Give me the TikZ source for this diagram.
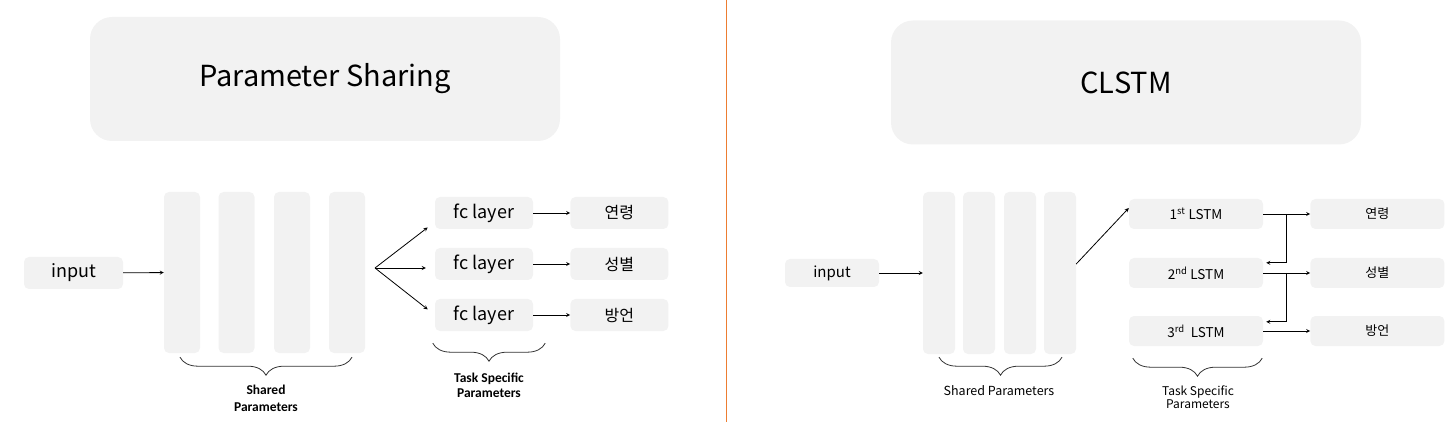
\documentclass[tikz,border=0pt]{standalone}
\usepackage{fontspec}
\setmainfont{Noto Sans CJK KR}
\newfontfamily\capfont{Carlito}
\usetikzlibrary{positioning,calc,decorations.pathreplacing}
\definecolor{boxgray}{HTML}{F2F2F2}
\definecolor{divider}{HTML}{ED7D31}

\begin{document}
\begin{tikzpicture}[x=1pt,y=-1pt,
  tile/.style={fill=boxgray, rounded corners=5pt, inner sep=0pt, align=center},
  head/.style={tile, rounded corners=22pt, minimum width=470pt, minimum height=124pt, font=\fontsize{29}{35}\selectfont},
  bar/.style={tile, minimum height=161pt},
  fcbox/.style={tile, minimum width=98pt, minimum height=32pt, font=\fontsize{18}{22}\selectfont},
  outL/.style={fcbox, font=\fontsize{16}{20}\selectfont},
  lstmbox/.style={tile, minimum width=134pt, minimum height=30pt, font=\fontsize{13.5}{16}\selectfont},
  outR/.style={lstmbox, font=\fontsize{13}{16}\selectfont},
  brc/.style={decorate, decoration={brace, mirror, amplitude=18pt}, line width=0.8pt, draw=black!80},
  arr/.style={->, >=stealth, line width=0.8pt},
  node distance=37pt]
  \useasboundingbox (0,0) rectangle (1452,422);

  % Parameter Sharing
  \node[head] (titleL) at (325,79) {Parameter Sharing};
  \node[fcbox, minimum width=99pt] (inL) at (73.5,273) {input};
  \foreach \i/\x in {1/182,2/236.5,3/292,4/347}
    \node[bar, minimum width=36pt] (bL\i) at (\x,272.5) {};
  \node[fcbox] (fc1) at (484,213) {fc layer};
  \node[fcbox] (fc2) at (484,264) {fc layer};
  \node[fcbox] (fc3) at (484,315) {fc layer};
  \node[outL, right=of fc1] (ageL) {연령};
  \node[outL, right=of fc2] (sexL) {성별};
  \node[outL, right=of fc3] (dialL) {방언};
  \coordinate (fan) at (375,268);
  \draw[arr] (inL) -- (bL1);
  \draw[arr, shorten >=9pt] (fan) -- ([yshift=-9pt]fc1.west);
  \draw[arr, shorten >=9pt] (fan) -- ([yshift=-4pt]fc2.west);
  \draw[arr, shorten >=9pt] (fan) -- (fc3.west);
  \draw[arr] (fc1) -- (ageL);
  \draw[arr] (fc2) -- (sexL);
  \draw[arr] (fc3) -- (dialL);
  \draw[brc] ([xshift=-2pt,yshift=-4pt]bL1.south) -- ([xshift=5pt,yshift=-4pt]bL4.south);
  \draw[brc] ([xshift=-2pt,yshift=-12pt]fc3.south west) -- ([xshift=12pt,yshift=-12pt]fc3.south east);
  \node[align=center, font=\capfont\bfseries\fontsize{13.5}{17}\selectfont] (sharedL) at (266,398) {Shared\\Parameters};
  \node[align=center, font=\capfont\bfseries\fontsize{13.5}{15}\selectfont] (taskL) at (489,385) {Task Specific\\Parameters};

  \draw[divider, line width=1pt] (726,0) -- (726,422);

  % CLSTM
  \node[head] (titleR) at (1126,82.5) {CLSTM};
  \node[tile, minimum width=94pt, minimum height=28pt, font=\fontsize{15}{18}\selectfont] (inR) at (832,273) {input};
  \foreach \i/\x in {1/939,2/979,3/1020,4/1060}
    \node[bar, minimum width=32pt, minimum height=162pt] (bR\i) at (\x,273) {};
  \node[lstmbox] (lstm1) at (1196,214) {1\textsuperscript{st} LSTM};
  \node[lstmbox] (lstm2) at (1196,273) {2\textsuperscript{nd} LSTM};
  \node[lstmbox] (lstm3) at (1196,331) {3\textsuperscript{rd}\ \ LSTM};
  \node[outR, right=47pt of lstm1] (ageR) {연령};
  \node[outR, right=47pt of lstm2] (sexR) {성별};
  \node[outR, right=47pt of lstm3] (dialR) {방언};
  \coordinate (split1) at ($(lstm1.east)!0.5!(ageR.west)$);
  \coordinate (split2) at ($(lstm2.east)!0.5!(sexR.west)$);
  \draw[arr] (inR) -- (bR1);
  \draw[arr] ([yshift=9pt]bR4.east) -- ([yshift=6pt]lstm1.west);
  \draw[arr] (lstm1) -- (ageR);
  \draw[arr] (lstm2) -- (sexR);
  \draw[arr] (lstm3) -- (dialR);
  \draw[arr, shorten >=3pt] (split1) |- ([yshift=-5pt]lstm2.north east);
  \draw[arr, shorten >=3pt] (split2) |- ([yshift=-6pt]lstm3.north east);
  \draw[brc] ([yshift=-3pt]bR1.south) -- ([xshift=2pt,yshift=-3pt]bR4.south);
  \draw[brc] ([xshift=4pt,yshift=-12pt]lstm3.south west) -- ([xshift=-1pt,yshift=-12pt]lstm3.south east);
  \node[font=\fontsize{12.5}{15}\selectfont] (sharedR) at (999,391) {Shared Parameters};
  \node[align=center, font=\fontsize{12}{13}\selectfont] (taskR) at (1198,397) {Task Specific\\Parameters};
\end{tikzpicture}
\end{document}
